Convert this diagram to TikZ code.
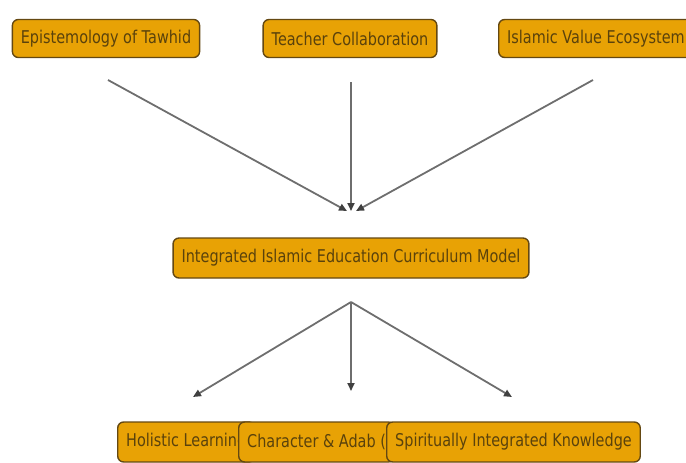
\documentclass[tikz,border=0pt]{standalone}
\usepackage{fontspec}
\setmainfont{DejaVu Sans}[FakeStretch=0.82]
\usetikzlibrary{arrows.meta,calc}
\definecolor{BoxOrange}{RGB}{232,162,5}
\definecolor{BoxEdge}{RGB}{100,72,18}
\definecolor{LabelBrown}{RGB}{90,66,12}
\definecolor{ArrowGray}{RGB}{110,110,110}
\tikzset{
  concept/.style = {draw=BoxEdge, fill=BoxOrange, rounded corners=6pt,
                    line width=1.4pt, minimum height=38pt, inner xsep=8.5pt,
                    text=LabelBrown, font=\fontsize{17.6}{20}\selectfont},
  link/.style    = {-{Triangle[length=8pt,width=7pt,color=black!75]},
                    ArrowGray, line width=1.8pt}
}

\begin{document}
\begin{tikzpicture}[x=1pt, y=-1pt]
\clip (0,0) rectangle (686,463);

% inputs
\node[concept] (tawhid) at (106,38.5) {Epistemology of Tawhid};
\node[concept] (teacher) at (350,38.5) {Teacher Collaboration};
\node[concept, anchor=west] (ecosys) at (498,38.5) {Islamic Value Ecosystem};

% model
\node[concept, minimum height=40pt] (model) at (351,258) {Integrated Islamic Education Curriculum Model};

% outcomes
\node[concept, minimum height=40pt, anchor=west] (holistic) at (117,442) {Holistic Learning};
\node[concept, minimum height=40pt, anchor=west] (adab) at (238,442) {Character \& Adab (};
\node[concept, minimum height=40pt, anchor=west] (spirit) at (386,442) {Spiritually Integrated Knowledge};

% connector ends
\coordinate (tawhidOut) at (108,80);
\coordinate (teacherOut) at (351,82);
\coordinate (ecosysOut) at (593,80);
\coordinate (modelInL) at (347,211);
\coordinate (modelIn) at (351,211);
\coordinate (modelInR) at (356,211);
\coordinate (modelOut) at (351,302);
\coordinate (holisticIn) at (193,397);
\coordinate (adabIn) at (351,391);
\coordinate (spiritIn) at (512,397);

\draw[link] (tawhidOut) -- (modelInL);
\draw[link] (teacherOut) -- (modelIn);
\draw[link] (ecosysOut) -- (modelInR);
\draw[link] (modelOut) -- (holisticIn);
\draw[link] (modelOut) -- (adabIn);
\draw[link] (modelOut) -- (spiritIn);
\end{tikzpicture}
\end{document}
